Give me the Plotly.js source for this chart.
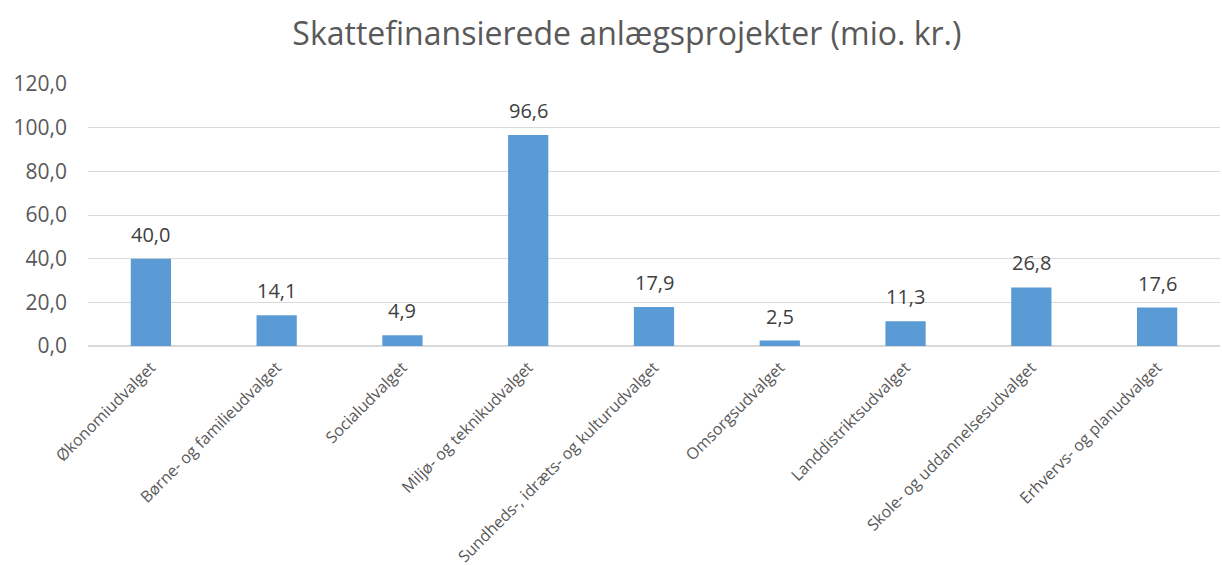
<!DOCTYPE html>
<html>
<head>
<meta charset="utf-8">
<script src="https://cdn.plot.ly/plotly-3.0.1.min.js"></script>
<style>html,body{margin:0;padding:0;background:#fff;}#chart{width:1222px;height:565px;}</style>
</head>
<body>
<div id="chart"></div>
<script>
const categories = ["Økonomiudvalget","Børne- og familieudvalget","Socialudvalget","Miljø- og teknikudvalget","Sundheds-, idræts- og kulturudvalget","Omsorgsudvalget","Landdistriktsudvalget","Skole- og uddannelsesudvalget","Erhvervs- og planudvalget"];
const values = [40.0, 14.1, 4.9, 96.6, 17.9, 2.5, 11.3, 26.8, 17.6];
const yTicks = [0, 20, 40, 60, 80, 100, 120];

const trace = {
  type: 'bar',
  x: categories,
  y: values,
  marker: {color: '#5B9BD5'},
  hoverinfo: 'skip'
};

const annotations = categories.map((c, i) => ({
  x: c, y: values[i], xref: 'x', yref: 'y',
  text: values[i].toFixed(1).replace('.', ','),
  showarrow: false, yanchor: 'bottom', yshift: 9,
  font: {family: 'Open Sans, sans-serif', size: 20, color: '#404040'}
}));

const layout = {
  width: 1222, height: 565,
  margin: {l: 88, r: 2, t: 84, b: 219},
  paper_bgcolor: '#fff', plot_bgcolor: '#fff',
  separators: ',.',
  bargap: 0.68,
  showlegend: false,
  annotations: annotations,
  title: {text: 'Skattefinansierede anlægsprojekter (mio. kr.)', x: 0.513, xanchor: 'center', y: 0.94, yanchor: 'middle',
    font: {family: 'Open Sans, sans-serif', size: 32, color: '#595959'}},
  xaxis: {
    tickangle: -45,
    tickfont: {family: 'Open Sans, sans-serif', size: 16, color: '#595959'},
    showgrid: false, showline: false, ticks: '', ticklabelstandoff: 8
  },
  yaxis: {
    range: [0, 120], tickvals: yTicks, tickformat: '.1f',
    tickfont: {family: 'Open Sans, sans-serif', size: 21, color: '#595959'},
    gridcolor: '#d9d9d9', gridwidth: 1,
    zeroline: true, zerolinecolor: '#d9d9d9', zerolinewidth: 2,
    showline: false, ticks: '', ticklabelstandoff: 20
  }
};

Plotly.newPlot('chart', [trace], layout, {displayModeBar: false, staticPlot: true});
</script>
</body>
</html>
